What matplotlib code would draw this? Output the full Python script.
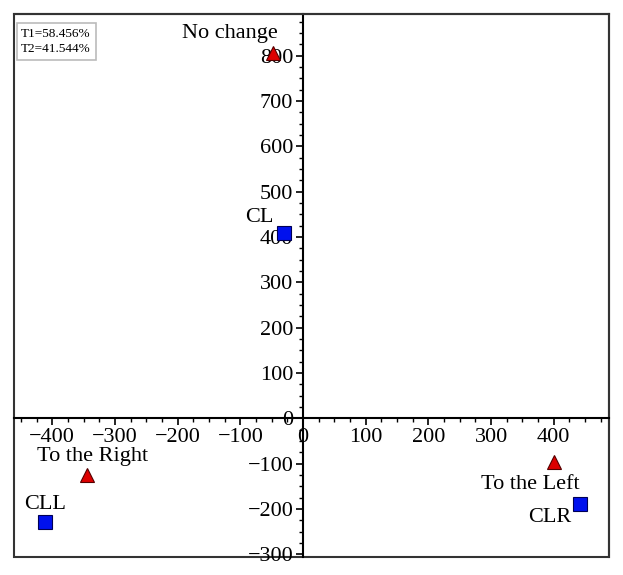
import matplotlib
matplotlib.use("Agg")
import matplotlib.pyplot as plt
from matplotlib.ticker import MultipleLocator
from matplotlib.patches import Rectangle

plt.rcParams['font.family'] = ['Liberation Serif', 'DejaVu Serif']

tri_names = ["No change", "To the Right", "To the Left"]
tri_x = [-48, -345, 400]
tri_y = [806, -125, -96]

sq_names = ["CL", "CLL", "CLR"]
sq_x = [-30, -411, 441]
sq_y = [408, -229, -189]

# label positions (text centres)
tri_lab_x = [-116, -335, 362]
tri_lab_y = [850, -84, -145]
sq_lab_x = [-70, -411, 394]
sq_lab_y = [442, -191, -218]

legend_text = "T1=58.456%\nT2=41.544%"

xticks = [-400, -300, -200, -100, 0, 100, 200, 300, 400]
yticks = [-300, -200, -100, 0, 100, 200, 300, 400, 500, 600, 700, 800]

fig = plt.figure(figsize=(6.23, 5.75), dpi=100)
ax = fig.add_axes([0.0225, 0.0313, 0.955, 0.9444])
ax.set_xlim(-461, 488)
ax.set_ylim(-306, 892)

for s in ['top', 'right']:
    ax.spines[s].set_color('#333333')
    ax.spines[s].set_linewidth(1.5)
ax.spines['left'].set_position(('data', 0))
ax.spines['bottom'].set_position(('data', 0))
for s in ['left', 'bottom']:
    ax.spines[s].set_color('black')
    ax.spines[s].set_linewidth(1.5)
ax.add_patch(Rectangle((0, 0), 1, 1, transform=ax.transAxes, fill=False,
                       edgecolor='#333333', linewidth=1.5, clip_on=False, zorder=0))

ax.set_xticks(xticks)
ax.set_yticks(yticks)
ax.set_xticklabels([str(v).replace('-', '\u2212') for v in xticks])
ax.set_yticklabels([str(v).replace('-', '\u2212') for v in yticks])
ax.xaxis.set_minor_locator(MultipleLocator(25))
ax.yaxis.set_minor_locator(MultipleLocator(25))
ax.tick_params(which='major', direction='out', length=5, width=1.2, labelsize=16, pad=2)
ax.tick_params(which='minor', direction='out', length=3, width=1.0)

ax.plot(tri_x, tri_y, linestyle='none', marker='^', markersize=10,
        markerfacecolor='#dd0000', markeredgecolor='#550000', markeredgewidth=0.8, zorder=5)
ax.plot(sq_x, sq_y, linestyle='none', marker='s', markersize=10,
        markerfacecolor='#0011ee', markeredgecolor='#000055', markeredgewidth=0.8, zorder=5)

for n, x, y in zip(tri_names, tri_lab_x, tri_lab_y):
    ax.text(x, y, n, ha='center', va='center', fontsize=16)
for n, x, y in zip(sq_names, sq_lab_x, sq_lab_y):
    ax.text(x, y, n, ha='center', va='center', fontsize=16)

ax.text(0.012, 0.974, legend_text, transform=ax.transAxes, ha='left', va='top',
        fontsize=9.5, linespacing=1.35,
        bbox=dict(boxstyle='square,pad=0.35', facecolor='white', edgecolor='#bbbbbb', linewidth=1.2))

fig.savefig("out.png", dpi=100)
